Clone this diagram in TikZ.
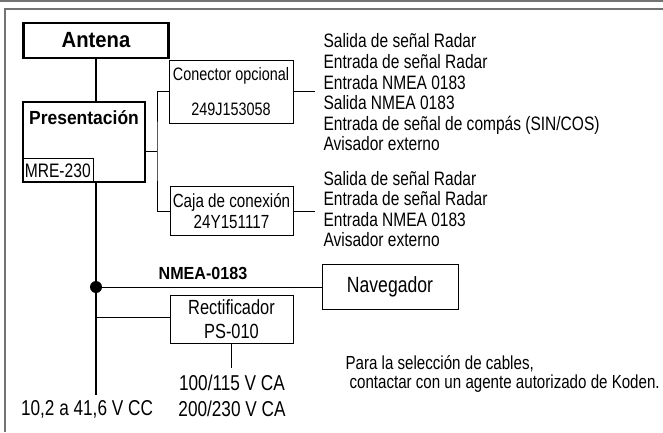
\documentclass[tikz,border=0pt]{standalone}
\usepackage{fontspec}
\setmainfont{Liberation Sans}[FakeStretch=0.8]
\newfontfamily\boldsans{Liberation Sans}[FakeStretch=0.92]

\tikzset{
    thickbox/.style={draw, line width=2.4pt, inner sep=0pt},
    thinbox/.style={draw, line width=0.9pt, inner sep=0pt, align=center},
    wire/.style={line width=0.9pt},
    bus/.style={line width=2.6pt},
    frameline/.style={draw=black!55, line width=1.6pt},
    fsz/.style={font=\fontsize{#1}{20.6}\selectfont},
    bsz/.style={font=\boldsans\bfseries\fontsize{#1}{#1}\selectfont},
}

\begin{document}
\begin{tikzpicture}[x=1pt, y=-1pt]
        \useasboundingbox (0,0) rectangle (663,432);

        % frame
        \draw[frameline] (0,1) -- (663,1);
        \draw[frameline] (663,9) -- (5,9) -- (5,432);

        % display unit and antenna
        \node[thickbox, minimum width=145pt, minimum height=35pt, bsz=22] (ant) at (96,40.5) {Antena};
        \node[thickbox, minimum width=122pt, minimum height=80pt] (pres) at (84,142) {};
        \node[bsz=19] (prestxt) at (84,118) {Presentación};
        \node[thinbox, anchor=south west, minimum width=71pt, minimum height=24pt, fsz=19.5] (mre) at (pres.south west) {MRE-230};

        \coordinate (jn) at (96,287);
        \coordinate (busend) at (96,395);
        \draw[bus] (ant.south) -- (ant.south |- pres.north);
        \draw[bus] (pres.south -| ant.south) -- (busend);
        \fill (jn) circle (6pt);
        \node[fsz=21.5] (dc) at (87,409) {10,2 a 41,6 V CC};

        % optional connector and junction box
        \node[thinbox, minimum width=124pt, minimum height=63pt, fsz=18] (con) at (231,91.5) {Conector opcional\\[14pt]249J153058};
        \node[thinbox, minimum width=123pt, minimum height=49pt, fsz=19] (caja) at (231.5,211) {Caja de conexión\\24Y151117};
        \coordinate (brk) at (157,151);
        \draw[wire] (pres.east |- brk) -- (brk);
        \draw[wire] (con.west) -| (brk) |- (caja.west);

        \coordinate (conend) at (315,91.5);
        \coordinate (cajaend) at (315,211);
        \draw[wire] (con.east) -- (conend);
        \draw[wire] (caja.east) -- (cajaend);
        \node[anchor=west, align=left, fsz=19.4] (list1) at (320,92.5) {Salida de señal Radar\\Entrada de señal Radar\\Entrada NMEA 0183\\Salida NMEA 0183\\Entrada de señal de compás (SIN/COS)\\Avisador externo};
        \node[anchor=west, align=left, fsz=19.4] (list2) at (320,209) {Salida de señal Radar\\Entrada de señal Radar\\Entrada NMEA 0183\\Avisador externo};

        % navigator
        \node[thinbox, minimum width=136pt, minimum height=45pt, fsz=22] (nav) at (390,286.5) {Navegador};
        \draw[wire] (jn) -- (nav.west |- jn);
        \node[bsz=17.5] (nmea) at (203,273) {NMEA-0183};

        % rectifier
        \node[thinbox, minimum width=123pt, minimum height=48pt, font=\fontsize{20.5}{24}\selectfont] (rect) at (231.5,319) {Rectificador\\PS-010};
        \coordinate (rectend) at (231.5,368);
        \draw[wire] (jn |- 0,317) -- (rect.west |- 0,317);
        \draw[wire] (rect.south) -- (rectend);
        \node[fsz=21.5] (ac1) at (232,383) {100/115 V CA};
        \node[fsz=21.5] (ac2) at (232,409) {200/230 V CA};

        % note
        \node[anchor=west, fsz=18.9] (note1) at (342,364) {Para la selección de cables,};
        \node[anchor=west, fsz=18.9] (note2) at (346,384) {contactar con un agente autorizado de Koden.};
    \end{tikzpicture}
\end{document}
